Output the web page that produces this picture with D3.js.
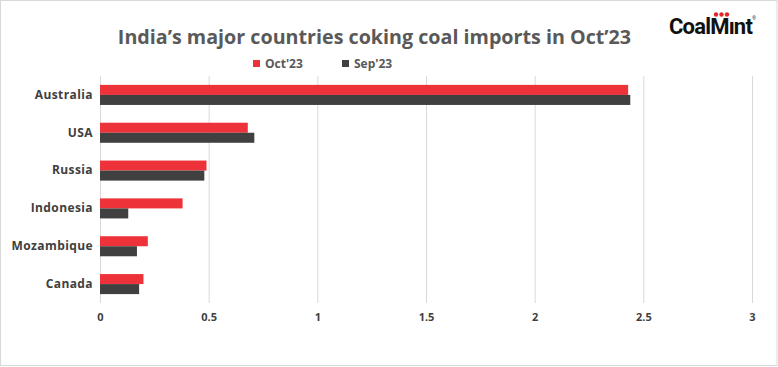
<!DOCTYPE html>
<html>
<head>
<meta charset="utf-8">
<title></title>
<script src="https://cdn.jsdelivr.net/npm/d3@7"></script>
<style>
  body { margin: 0; background: #fff; font-family: "Open Sans", sans-serif; }
  .grid line { stroke: #d9d9d9; }
  .grid path { display: none; }
  .xaxis path, .xaxis line { display: none; }
  .yaxis path, .yaxis line { display: none; }
</style>
</head>
<body>
<script>
// data
const countries = ["Australia", "USA", "Russia", "Indonesia", "Mozambique", "Canada"]
const oct23 = [2.43, 0.68, 0.49, 0.38, 0.22, 0.20]
const sep23 = [2.44, 0.71, 0.48, 0.13, 0.17, 0.18]
const seriesNames = ["Oct'23", "Sep'23"]
const colors = ["#ee3239", "#404040"]
const xTicks = [0, 0.5, 1, 1.5, 2, 2.5, 3]

const W = 778, H = 367
const margin = { left: 100, right: 26, top: 76, bottom: 64 }
const innerW = W - margin.left - margin.right
const innerH = H - margin.top - margin.bottom

const svg = d3.select("body").append("svg")
  .attr("width", W).attr("height", H)

// outer border
svg.append("rect")
  .attr("x", 0.5).attr("y", 0.5)
  .attr("width", W - 1.5).attr("height", H - 2)
  .attr("fill", "#fff").attr("stroke", "#d9d9d9")

// title
svg.append("text")
  .attr("x", 374.5).attr("y", 44)
  .attr("text-anchor", "middle")
  .attr("font-size", "19.7px").attr("font-weight", "bold")
  .attr("fill", "#595959")
  .text("India’s major countries coking coal imports in Oct’23")

// logo
const logo = svg.append("g")
logo.append("text")
  .attr("x", 669).attr("y", 34)
  .attr("font-family", "Roboto").attr("font-weight", "bold")
  .attr("font-size", "22px").attr("letter-spacing", "-0.8px")
  .attr("fill", "#111")
  .text("CoalMınt")
;[716, 721.5, 727].forEach(cx => {
  logo.append("circle").attr("cx", cx).attr("cy", 14.5).attr("r", 2.2).attr("fill", "#e3262c")
})
logo.append("text").attr("x", 752).attr("y", 20).attr("font-size", "5px").attr("fill", "#333").text("®")

const g = svg.append("g").attr("transform", `translate(${margin.left},${margin.top})`)

const x = d3.scaleLinear().domain([0, 3]).range([0, innerW])
const y = d3.scaleBand().domain(countries).range([0, innerH]).paddingInner(0.47).paddingOuter(0.235)
const ySub = d3.scaleBand().domain(seriesNames).range([0, y.bandwidth()])

// gridlines
g.append("g").attr("class", "grid")
  .attr("transform", `translate(0,${innerH})`)
  .call(d3.axisBottom(x).tickValues(xTicks).tickSize(-innerH).tickFormat(""))

// bars
const rows = countries.map((c, i) => ({ c, vals: [oct23[i], sep23[i]] }))
const rowG = g.selectAll(".row").data(rows).enter().append("g")
  .attr("transform", d => `translate(0,${y(d.c)})`)
rowG.selectAll("rect")
  .data(d => d.vals.map((v, j) => ({ v, s: seriesNames[j], j })))
  .enter().append("rect")
  .attr("x", 0)
  .attr("y", d => ySub(d.s))
  .attr("width", d => x(d.v))
  .attr("height", ySub.bandwidth())
  .attr("fill", d => colors[d.j])

// x axis
g.append("g").attr("class", "xaxis")
  .attr("transform", `translate(0,${innerH})`)
  .call(d3.axisBottom(x).tickValues(xTicks).tickSize(0).tickPadding(10).tickFormat(d3.format("")))
  .selectAll("text")
  .attr("font-family", "Open Sans").attr("font-size", "11px").attr("font-weight", "700").attr("fill", "#404040")

// y axis
g.append("g").attr("class", "yaxis")
  .call(d3.axisLeft(y).tickSize(0).tickPadding(7))
  .selectAll("text")
  .attr("font-family", "Open Sans").attr("font-size", "12px").attr("font-weight", "700")
  .attr("letter-spacing", "0.4px").attr("fill", "#404040")

// legend
const legX = [253, 342]
const leg = svg.selectAll(".leg").data(seriesNames).enter().append("g")
  .attr("transform", (d, i) => `translate(${legX[i]},60)`)
leg.append("rect").attr("width", 7).attr("height", 7).attr("fill", (d, i) => colors[i])
leg.append("text").attr("x", 12).attr("y", 7.5)
  .attr("font-size", "12px").attr("font-weight", "700").attr("fill", "#595959")
  .text(d => d)
</script>
</body>
</html>
